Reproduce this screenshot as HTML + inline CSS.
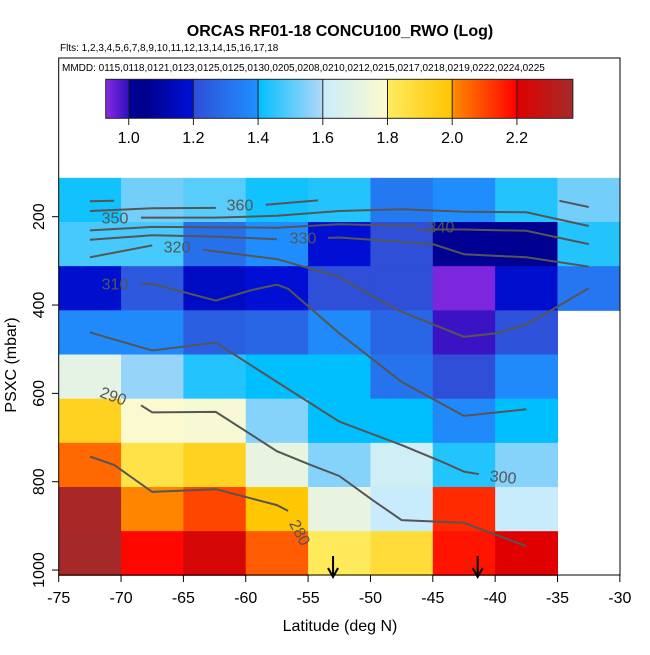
<!DOCTYPE html>
<html><head><meta charset="utf-8"><style>
body{margin:0;background:#fff;}
svg text{font-family:"Liberation Sans",sans-serif;}
</style></head><body>
<svg id="chart" width="650" height="650" viewBox="0 0 650 650">
<defs><linearGradient id="cbgrad" x1="0" x2="1" y1="0" y2="0"></linearGradient></defs>
<g id="cells"></g>
<g id="contours"></g>
<g id="axes"></g>
<text x="340" y="36" text-anchor="middle" font-size="16" font-weight="bold">ORCAS RF01-18 CONCU100_RWO (Log)</text>
<text x="60" y="51" font-size="10">Flts: 1,2,3,4,5,6,7,8,9,10,11,12,13,14,15,16,17,18</text>
<text x="62" y="71" font-size="10">MMDD: 0115,0118,0121,0123,0125,0125,0130,0205,0208,0210,0212,0215,0217,0218,0219,0222,0224,0225</text>
<g id="colorbar"></g>
<text x="340" y="631" text-anchor="middle" font-size="16">Latitude (deg N)</text>
<text transform="translate(16,365) rotate(-90)" text-anchor="middle" font-size="16">PSXC (mbar)</text>
</svg>
<script>
const lats = [-72.5,-67.5,-62.5,-57.5,-52.5,-47.5,-42.5,-37.5,-32.5];
const pressures = [162,262,362,462,562,662,762,862,962];
const values = [
 [1.42,1.53,1.50,1.42,1.44,1.33,1.39,1.44,1.53],
 [1.48,1.48,1.30,1.39,1.19,1.20,1.02,1.03,1.44],
 [1.18,1.23,1.16,1.19,1.20,1.20,0.94,1.18,1.32],
 [1.38,1.38,1.25,1.27,1.38,1.27,0.99,1.21,null],
 [1.70,1.57,1.44,1.40,1.40,1.31,1.20,1.38,null],
 [1.93,1.785,1.77,1.55,1.40,1.40,1.38,1.40,null],
 [2.05,1.85,1.93,1.72,1.55,1.63,1.44,1.55,null],
 [2.36,2.01,2.10,1.99,1.72,1.60,2.14,1.60,null],
 [2.37,2.19,2.23,2.07,1.81,1.88,2.17,2.20,null]
];
const xTicks = [-75,-70,-65,-60,-55,-50,-45,-40,-35,-30];
const yTicks = [200,400,600,800,1000];
const cbTicks = [1.0,1.2,1.4,1.6,1.8,2.0,2.2];
const arrowLats = [-53.0,-41.4];
const contourLevels = [360,360,360,350,340,330,320,310,300,290,280];
const contourLats = [
 [-72.5,-70.56],
 [-72.5,-67.5,-62.4],
 [-58.4,-54.2],
 [-68.4,-62.4,-57.5,-52.5,-47.5,-42.5,-37.5,-32.5],
 [-72.5,-67.5,-57.5,-52.5,-46.3],
 [-72.5,-67.5,-62.4,-57.5],
 [-72.5,-67.5],
 [-68.4,-67.5,-62.4,-59.5,-57.5,-56.6,-52.5,-47.5,-42.5,-37.5],
 [-72.5,-67.5,-62.4,-57.5,-52.5,-47.5,-44.0,-42.5,-41.3],
 [-68.4,-67.5,-62.4,-57.5,-54.8,-52.5,-49.8,-47.5,-42.5,-37.5],
 [-72.5,-70.56,-67.5,-62.4,-57.5,-56.6]
];
const contourPres = [
 [165,164],
 [187,181,180],
 [173,163],
 [202,202,198,187,183,189,190,221],
 [231,223,225,217,221],
 [252,242,245,251],
 [292,265],
 [352,352,390,366,354,363,464,574,651,636],
 [462,503,485,574,664,717,758,777,783],
 [627,643,642,731,762,787,842,887,893,946],
 [743,762,823,817,853,866]
];
const contour2Lats = [[-46.3,-42.5,-37.5,-32.5],[-53.4,-52.5,-47.5,-44.9,-42.5,-37.5,-32.5],[-63.4,-57.5,-52.5,-49.8,-47.5,-42.5,-39.9,-37.5,-32.5],[-34.85,-32.5]];
const contour2Pres = [[229,229,232,262],[248,247,257,263,285,292,313],[275,296,336,381,415,472,464,445,362],[164,178]];
const stops = [[0.929,'#8a2be2'],[0.999,'#3010c0'],[1.0,'#00009a'],[1.05,'#00008b'],[1.199,'#0010d8'],[1.2,'#2f4fd8'],[1.399,'#1e90ff'],[1.4,'#00bfff'],[1.599,'#b0d8f8'],[1.6,'#c8ecfc'],[1.799,'#fffacd'],[1.8,'#ffec60'],[1.999,'#ffc400'],[2.0,'#ff8c00'],[2.199,'#ff0000'],[2.2,'#e00000'],[2.373,'#a52a2a']];

const NS='http://www.w3.org/2000/svg';
const X0=58.7, PXD=12.47;
function xs(lat){return X0+(lat+75)*PXD;}
function ys(p){return 216.7+(p-200)*0.4417;}
function cbx(v){return 128.7+(v-1.0)*323.5;}
function hex(c){return [1,3,5].map(i=>parseInt(c.substr(i,2),16));}
function col(v){
  if(v<=stops[0][0])return stops[0][1];
  for(let i=1;i<stops.length;i++){if(v<=stops[i][0]){const a=stops[i-1],b=stops[i];const t=(v-a[0])/(b[0]-a[0]);const ca=hex(a[1]),cb=hex(b[1]);return 'rgb('+ca.map((c,k)=>Math.round(c+(cb[k]-c)*t)).join(',')+')';}}
  return stops[stops.length-1][1];
}
function mk(tag,attrs,parent){const e=document.createElementNS(NS,tag);for(const k in attrs)e.setAttribute(k,attrs[k]);parent.appendChild(e);return e;}

const cells=document.getElementById('cells');
values.forEach((row,i)=>row.forEach((v,j)=>{
  if(v===null)return;
  const r=mk('rect',{x:xs(lats[j]-2.5),y:ys(pressures[i]-50),width:xs(lats[j]+2.5)-xs(lats[j]-2.5)+0.5,height:ys(pressures[i]+50)-ys(pressures[i]-50)+0.5,fill:col(v)},cells);
  
  
}));

const cg=document.getElementById('contours');
function drawLine(la,pr){
  const d=la.map((l,k)=>(k?'L':'M')+xs(l).toFixed(1)+','+ys(pr[k]).toFixed(1)).join(' ');
  const p=mk('path',{d:d,fill:'none',stroke:'#555','stroke-width':2},cg);
  
  
}
contourLats.forEach((la,i)=>drawLine(la,contourPres[i]));
contour2Lats.forEach((la,i)=>drawLine(la,contour2Pres[i]));
const labs=[['360',240,206,0],['350',115,219,0],['340',441,228,0],['330',303,239,0],['320',177,248,0],['310',115,285,0],['300',503,478,6],['290',113,397,20],['280',299,533,62]];
labs.forEach(l=>{
  const t=mk('text',{transform:'translate('+l[1]+','+l[2]+') rotate('+l[3]+')','text-anchor':'middle','dominant-baseline':'central','font-size':16,fill:'#555'},cg);
  t.textContent=l[0];
  
  
});
arrowLats.forEach(a=>{
  const x=xs(a);
  const g=mk('g',{},cg);
  
  
  mk('line',{x1:x,y1:556,x2:x,y2:576,stroke:'#000','stroke-width':2},g);
  mk('path',{d:'M'+(x-5)+',568 L'+x+',577 L'+(x+5)+',568',fill:'none',stroke:'#000','stroke-width':2},g);
});

const ax=document.getElementById('axes');
const frame=mk('rect',{x:58.7,y:58,width:620-58.7,height:517,fill:'none',stroke:'#000','stroke-width':1},ax);


xTicks.forEach(t=>{
  const x=xs(t);
  mk('line',{x1:x,y1:575,x2:x,y2:582,stroke:'#000'},ax);
  const tx=mk('text',{x:x,y:603,'text-anchor':'middle','font-size':16},ax);
  tx.textContent=String(t);
  
  
});
yTicks.forEach(t=>{
  const y=ys(t);
  mk('line',{x1:52,y1:y,x2:58.7,y2:y,stroke:'#000'},ax);
  const tx=mk('text',{transform:'translate(44,'+y+') rotate(-90)','text-anchor':'middle','font-size':16},ax);
  tx.textContent=String(t);
  
  
});

const grad=document.getElementById('cbgrad');
const vmin=0.929,vmax=2.373;
stops.forEach(s=>{mk('stop',{offset:((s[0]-vmin)/(vmax-vmin)*100).toFixed(2)+'%','stop-color':s[1]},grad);});
const cb=document.getElementById('colorbar');
const cbr=mk('rect',{x:cbx(vmin),y:79.3,width:cbx(vmax)-cbx(vmin),height:39,fill:'url(#cbgrad)',stroke:'#222','stroke-width':1},cb);


cbTicks.forEach(t=>{
  const x=cbx(t);
  mk('line',{x1:x,y1:79.3,x2:x,y2:125,stroke:'#222','stroke-width':1},cb);
  const tx=mk('text',{x:x,y:143,'text-anchor':'middle','font-size':16},cb);
  tx.textContent=t.toFixed(1);
  
  
});
</script>
</body></html>
